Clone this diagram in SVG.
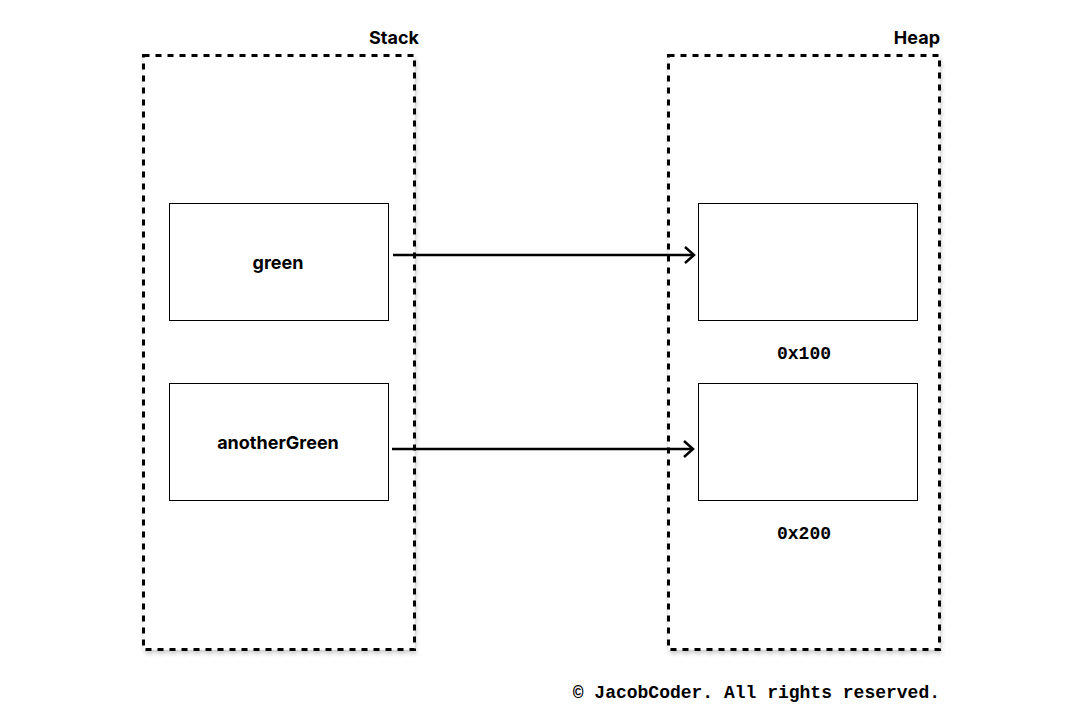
<svg xmlns="http://www.w3.org/2000/svg" width="1080" height="728" viewBox="0 0 1080 728">
<style>
.region{fill:#fff;stroke:#000;stroke-width:3;stroke-dasharray:6 6;}
.box{fill:#fff;stroke:#000;stroke-width:1;}
.title{font-family:"Inter","Liberation Sans",sans-serif;font-weight:bold;font-size:18px;fill:#000;text-anchor:end;}
.lbl{font-family:"Inter","Liberation Sans",sans-serif;font-weight:bold;font-size:18px;fill:#000;text-anchor:middle;}
.addr{font-family:"Liberation Mono","DejaVu Sans Mono",monospace;font-weight:bold;font-size:18px;fill:#000;text-anchor:middle;}
.foot{font-family:"Liberation Mono","DejaVu Sans Mono",monospace;font-weight:bold;font-size:18px;fill:#000;text-anchor:end;}
.conn{stroke:#000;stroke-width:2.5;fill:none;}
</style>
<defs>
<filter id="sh" x="-10%" y="-10%" width="120%" height="120%">
<feDropShadow dx="1" dy="3" stdDeviation="2" flood-color="#000" flood-opacity="0.2"/>
</filter>
<marker id="arr" markerWidth="14" markerHeight="20" refX="12" refY="10" orient="auto" markerUnits="userSpaceOnUse">
<path d="M3,2 L12,10 L3,18" fill="none" stroke="#000" stroke-width="2.5"/>
</marker>
</defs>
<rect width="1080" height="728" fill="#fff"/>
<g id="stack">
<rect class="region" x="143.5" y="55.5" width="271" height="594" filter="url(#sh)"/>
<text class="title" x="419" y="44">Stack</text>
</g>
<g id="heap">
<rect class="region" x="668.5" y="55.5" width="271" height="594" filter="url(#sh)"/>
<text class="title" x="940" y="44">Heap</text>
</g>
<g id="green">
<rect class="box" x="169.5" y="203.5" width="219" height="117"/>
<text class="lbl" x="278" y="269">green</text>
</g>
<g id="anotherGreen">
<rect class="box" x="169.5" y="383.5" width="219" height="117"/>
<text class="lbl" x="278" y="449">anotherGreen</text>
</g>
<g id="obj1">
<rect class="box" x="698.5" y="203.5" width="219" height="117"/>
<text class="addr" x="804" y="359">0x100</text>
</g>
<g id="obj2">
<rect class="box" x="698.5" y="383.5" width="219" height="117"/>
<text class="addr" x="804" y="539">0x200</text>
</g>
<g id="connectors">
<line class="conn" x1="393" y1="255" x2="694" y2="255" marker-end="url(#arr)"/>
<line class="conn" x1="392" y1="449" x2="693" y2="449" marker-end="url(#arr)"/>
</g>
<text class="foot" x="940" y="698">© JacobCoder. All rights reserved.</text>
</svg>
